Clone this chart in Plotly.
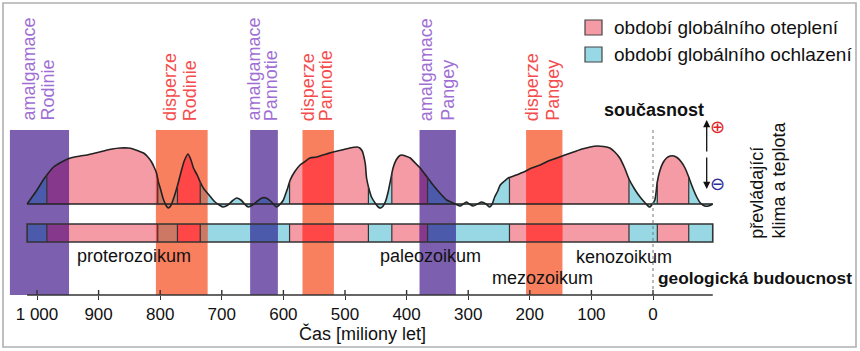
import numpy as np
import plotly.graph_objects as go

# ---------------- data ----------------
curve_age = [1016, 1008, 1000, 992, 984, 973, 960, 946, 930, 919, 905, 892, 878, 865, 852, 844,
             835, 827, 820, 814, 810, 806, 803, 800, 795, 790, 787, 783, 778, 773, 767, 761,
             755, 750, 746, 740, 735, 730, 725, 718, 711, 704, 698, 690, 683, 676, 669, 663,
             657, 650, 642, 635, 628, 621, 615, 611, 605, 600, 597, 593, 589, 582, 573, 566,
             557, 546, 530, 519, 505, 492, 480, 476, 472, 470, 467, 465, 461, 457, 450, 446,
             442, 438, 434, 430, 426, 422, 417, 412, 408, 402, 394, 386, 378, 368, 357, 346,
             335, 328, 321, 313, 308, 303, 298, 292, 285, 278, 271, 265, 261, 257, 252, 248,
             241, 235, 222, 210, 197, 183, 170, 156, 143, 129, 115, 102, 91, 80, 70, 62,
             54, 46, 39, 30, 21, 14, 8, 5, 2, -3, -7, -11, -16, -22, -28, -34,
             -40, -46, -52, -58, -64, -71, -77, -84, -90, -97]
curve_level = [0, 7, 14, 22, 29, 37, 42, 46, 48, 49, 51, 53, 55, 56, 56, 55,
               53, 51, 47, 42, 37, 31, 22, 16, 5, -2, -4, -2, 6, 16, 30, 43,
               50, 44, 36, 29, 22, 16, 12, 7, 2, -1, -3, -1, 3, 6, 4, 0,
               -3, -1, 3, 6, 6, 3, -1, -3, 0, 4, 9, 16, 24, 32, 39, 42,
               46, 47, 50, 52, 54, 56, 57, 56, 53, 49, 40, 26, 15, 7, 0, -3,
               -4, -2, 3, 12, 24, 36, 44, 48, 49, 48, 46, 41, 36, 28, 19, 11,
               4, 2, 0, -2, 0, 2, 0, -2, 0, 2, 0, -3, 0, 7, 13, 19,
               23, 26, 29, 32, 36, 39, 43, 46, 49, 52, 55, 57, 58, 57.5, 56, 52,
               46, 36, 25, 15, 7, 2, -2, -3, -1, 4, 22, 33, 41, 46, 48, 48,
               46, 42, 36, 27, 17, 7, 1, -2, -2, 0]

phase_bounds = [1016, 984, 804, 772, 735, 590, 462, 424, 366, 233, 39, -7, -58, -97]
phase_kind = ["cool", "warm", "cool", "warm", "cool", "warm", "cool",
              "warm", "cool", "warm", "cool", "warm", "cool"]

band_line1 = ["amalgamace", "disperze", "amalgamace", "disperze", "amalgamace", "disperze"]
band_line2 = ["Rodinie", "Rodinie", "Pannotie", "Pannotie", "Pangey", "Pangey"]
band_start = [1044, 807, 654, 569, 379, 206]
band_end = [948, 723, 609, 518, 320, 147]
band_kind = ["amal", "disp", "amal", "disp", "amal", "disp"]

era_names = ["proterozoikum", "paleozoikum", "mezozoikum", "kenozoikum"]
legend_labels = ["období globálního oteplení", "období globálního ochlazení"]

tick_vals = [1000, 900, 800, 700, 600, 500, 400, 300, 200, 100, 0]
tick_text = ["1 000", "900", "800", "700", "600", "500", "400", "300", "200", "100", "0"]

# ---------------- styles / geometry ----------------
W, H = 860, 351
X0PX, PPM = 37.0, 0.616       # px of 1000 Ma, px per Ma
BASE_PX = 204.0


def ma(px):
    return 1000 - (px - X0PX) / PPM


def lv(py):
    return BASE_PX - py


def xp(px):
    return px / W


def yp(py):
    return 1 - py / H


FONT = "Liberation Sans, Arial, Helvetica, sans-serif"
C_WARM = "#f59ba6"
C_COOL = "#98d8e4"
C_BAND = {"amal": "#7c5fae", "disp": "#f9805f"}
C_MIX = {("amal", "warm"): "#86398c", ("amal", "cool"): "#4b5aab",
         ("disp", "warm"): "#ff4747", ("disp", "cool"): "#cc7864"}
C_TXT = {"amal": "#a06fd4", "disp": "#f44d4d"}
LINE = "#222222"

STRIP_TOP, STRIP_BOT = lv(224), lv(242)
BAND_TOP, BAND_BOT = lv(130), lv(295)
AXIS_Y = lv(295)

ca = np.array(curve_age, float)
cl = np.array(curve_level, float)
asc_a, asc_l = ca[::-1], cl[::-1]


def curve_at(a):
    return float(np.interp(a, asc_a, asc_l))


def piece(hi, lo):
    m = (ca < hi) & (ca > lo)
    xs = np.concatenate([[hi], ca[m], [lo]])
    ys = np.concatenate([[curve_at(hi)], cl[m], [curve_at(lo)]])
    return xs, ys


fig = go.Figure()


def add_curve_fill(hi, lo, color):
    xs, ys = piece(hi, lo)
    fig.add_trace(go.Scatter(x=xs, y=ys, mode="lines", fill="tozeroy", fillcolor=color,
                             line=dict(width=0, color=color, shape="spline", smoothing=0.7),
                             hoverinfo="skip", showlegend=False))


def add_rect(x0, x1, y0, y1, color):
    fig.add_trace(go.Scatter(x=[x0, x1, x1, x0, x0], y=[y0, y0, y1, y1, y0], mode="lines",
                             fill="toself", fillcolor=color, line=dict(width=0, color=color),
                             hoverinfo="skip", showlegend=False))


# phase fills (curve + strip)
for i, kind in enumerate(phase_kind):
    hi, lo = phase_bounds[i], phase_bounds[i + 1]
    col = C_WARM if kind == "warm" else C_COOL
    add_curve_fill(hi, lo, col)
    add_rect(hi, lo, STRIP_BOT, STRIP_TOP, col)

# bands
for s, e, k in zip(band_start, band_end, band_kind):
    add_rect(s, e, BAND_BOT, BAND_TOP, C_BAND[k])

# overlaps band x phase
for s, e, k in zip(band_start, band_end, band_kind):
    for i, kind in enumerate(phase_kind):
        hi = min(s, phase_bounds[i])
        lo = max(e, phase_bounds[i + 1])
        if hi > lo:
            col = C_MIX[(k, kind)]
            add_curve_fill(hi, lo, col)
            add_rect(hi, lo, STRIP_BOT, STRIP_TOP, col)

# curve outline and baseline
fig.add_trace(go.Scatter(x=[phase_bounds[0], phase_bounds[-1]], y=[0, 0], mode="lines",
                         line=dict(color=LINE, width=1.6), hoverinfo="skip", showlegend=False))
fig.add_trace(go.Scatter(x=ca, y=cl, mode="lines",
                         line=dict(color=LINE, width=1.6, shape="spline", smoothing=0.7),
                         hoverinfo="skip", showlegend=False))

shapes = []
# dividers in curve and strip
for b in phase_bounds[1:-1]:
    shapes.append(dict(type="line", xref="x", yref="y", x0=b, x1=b, y0=0, y1=curve_at(b),
                       line=dict(color="#333333", width=1.2)))
    shapes.append(dict(type="line", xref="x", yref="y", x0=b, x1=b, y0=STRIP_BOT, y1=STRIP_TOP,
                       line=dict(color="#333333", width=1.2)))
# strip outline
shapes.append(dict(type="rect", xref="x", yref="y", x0=phase_bounds[0], x1=phase_bounds[-1],
                   y0=STRIP_BOT, y1=STRIP_TOP, line=dict(color="#333333", width=1.6)))
# axis line + inner tick parts
shapes.append(dict(type="line", xref="x", yref="y", x0=phase_bounds[0], x1=phase_bounds[-1],
                   y0=AXIS_Y, y1=AXIS_Y, line=dict(color="#333333", width=1.6)))
for t in tick_vals:
    shapes.append(dict(type="line", xref="x", yref="y", x0=t, x1=t, y0=AXIS_Y, y1=AXIS_Y + 5,
                       line=dict(color="#333333", width=1.4)))
# present-day dotted line
shapes.append(dict(type="line", xref="x", yref="y", x0=0, x1=0, y0=lv(130), y1=lv(293),
                   line=dict(color="#777777", width=1, dash="dot")))
# legend squares
for py0, col in [(20, C_WARM), (47, C_COOL)]:
    shapes.append(dict(type="rect", xref="paper", yref="paper", x0=xp(585), x1=xp(602),
                       y0=yp(py0 + 15), y1=yp(py0), fillcolor=col,
                       line=dict(color="#444444", width=1.2)))
# frame
shapes.append(dict(type="rect", xref="paper", yref="paper", x0=xp(3), x1=xp(856),
                   y0=yp(347), y1=yp(3), line=dict(color="#b0b0b0", width=1.6)))

ann = []


def text(px, py, s, size=18, color="#111111", bold=False, angle=0, xa="center", ya="middle",
         family=FONT):
    ann.append(dict(xref="paper", yref="paper", x=xp(px), y=yp(py), text=(f"<b>{s}</b>" if bold else s),
                    showarrow=False, textangle=angle, xanchor=xa, yanchor=ya,
                    font=dict(family=family, size=size, color=color)))


band_cols = [(29, 48), (170, 190.7), (254, 271.7), (308.3, 326.7), (426.7, 448.3), (532.3, 553.3)]
for (c1, c2), l1, l2, k in zip(band_cols, band_line1, band_line2, band_kind):
    text(c1, 123, l1, color=C_TXT[k], angle=-90, ya="bottom")
    text(c2, 123, l2, color=C_TXT[k], angle=-90, ya="bottom")

era_pos = [(134.3, 256), (430.5, 256), (542, 278.3), (623.8, 256.7)]
for (px, py), name in zip(era_pos, era_names):
    text(px, py, name)

text(611.5, 27.5, legend_labels[0], size=19, xa="left")
text(611.5, 54, legend_labels[1], size=19, xa="left")
text(653.5, 109.5, "současnost", bold=True)
text(755, 278.3, "geologická budoucnost", size=17.3, bold=True)
text(362, 333.5, "Čas [miliony let]")
text(756.7, 241, "převládající", angle=-90, ya="bottom")
text(778, 241, "klima a teplota", angle=-90, ya="bottom")
text(717, 126.5, "⊕", size=18, color="#e0232a", family="DejaVu Sans")
text(717, 183.5, "⊖", size=18, color="#2b2c9a", family="DejaVu Sans")

# double arrow
for head, tail in [(120, 153), (189, 156)]:
    ann.append(dict(xref="paper", yref="paper", x=xp(706.7), y=yp(head), ax=0, ay=tail - head,
                    text="", showarrow=True, arrowhead=2, arrowsize=1.1, arrowwidth=1.3,
                    arrowcolor="#111111"))

fig.update_layout(
    width=W, height=H, margin=dict(l=0, r=0, t=0, b=0),
    paper_bgcolor="white", plot_bgcolor="white", showlegend=False,
    shapes=shapes, annotations=ann,
    xaxis=dict(range=[ma(0), ma(W)], showgrid=False, zeroline=False, showline=False,
               anchor="free", position=(H - 295) / H,
               tickmode="array", tickvals=tick_vals, ticktext=tick_text,
               ticks="outside", ticklen=4, tickwidth=1.4, tickcolor="#333333",
               tickfont=dict(family=FONT, size=17, color="#111111")),
    yaxis=dict(range=[lv(H), lv(0)], visible=False, showgrid=False, zeroline=False),
)

fig.write_html("out.html")
